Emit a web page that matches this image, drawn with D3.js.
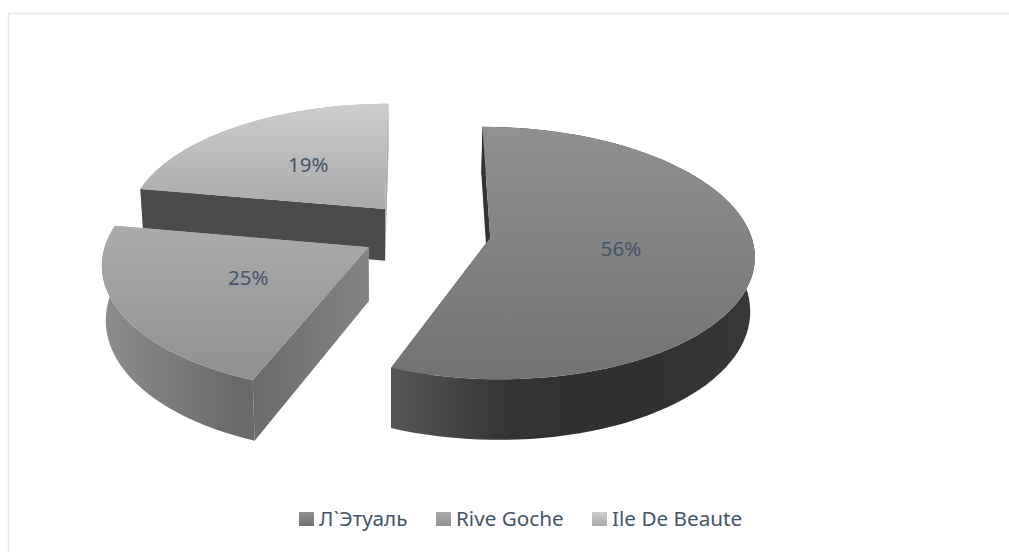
<!DOCTYPE html>
<html><head><meta charset="utf-8">
<script src="https://cdn.jsdelivr.net/npm/d3@7"></script>
<style>html,body{margin:0;padding:0;background:#fff}svg{display:block}</style>
</head><body><svg id="c" width="1009" height="552"></svg>
<script>
const categories = ["Л`Этуаль", "Rive Goche", "Ile De Beaute"];
const values = [56, 25, 19];
const labels = ["56%", "25%", "19%"];
const topColors = [["#919191", "#727272"], ["#ababab", "#909090"], ["#cdcdcd", "#a9a9a9"]];
const sideColors = [["#575757", "#333333", "#2f2f2f", "#383838"], ["#8d8d8d", "#6a6a6a", "#666666"], ["#b4b4b4", "#b4b4b4"]];
const wallColors = ["#333333", "#808080", "#4b4b4b"];
const endWallColors = ["#333333", "#b0b0b0", "#a8a8a8"];

const P = {x0: 426, y0: 232, a: 260, b: 123, s: 1, p: 0.12, explode: 0.25, depth: 53, vx: 400, k: 0.987};
const svg = d3.select("#c");
const defs = svg.append("defs");

const project = (u, v) => {
  const w = 1 - P.p * v;
  return [P.x0 + (P.a * u + P.s * v) / w, P.y0 + P.b * v / w, w];
};
const lower = ([x, y, w]) => [P.vx + (x - P.vx) * P.k, y + P.depth / w];
const line = d3.line();

const arcs = d3.pie().sort(null).value(d => d)(values).map((d, i) => ({...d, i}));
// the perspective view compresses the left boundary between the 2nd and 3rd slices
const deg = Math.PI / 180;
const warp = d3.scaleLinear().domain([0, arcs[1].startAngle, arcs[2].startAngle, 2 * Math.PI])
  .range([0, arcs[1].startAngle, 280 * deg, 2 * Math.PI]);
const dir = t => [Math.sin(t), -Math.cos(t)];

function geom(d) {
  const s = warp(d.startAngle), e = warp(d.endAngle);
  const mid = (s + e) / 2;
  const [mx, my] = dir(mid);
  const ax = mx * P.explode, ay = my * P.explode;
  const n = 80;
  const angles = d3.range(n + 1).map(j => s + (e - s) * j / n);
  const rim = angles.map(t => { const [u, v] = dir(t); return project(ax + u, ay + v); });
  const apex = project(ax, ay);
  const labelAt = project(ax + mx * 0.5, ay + my * 0.5);
  return {apex, rim, labelAt};
}

function vGrad(id, c, y0, y1) {
  const g = defs.append("linearGradient").attr("id", id).attr("gradientUnits", "userSpaceOnUse")
    .attr("x1", 0).attr("x2", 0).attr("y1", y0).attr("y2", y1);
  c.forEach((col, i) => g.append("stop").attr("offset", i / (c.length - 1)).attr("stop-color", col));
}
function hGrad(id, c, x0, x1) {
  const g = defs.append("linearGradient").attr("id", id).attr("gradientUnits", "userSpaceOnUse")
    .attr("y1", 0).attr("y2", 0).attr("x1", x0).attr("x2", x1);
  c.forEach((col, i) => g.append("stop").attr("offset", i / (c.length - 1)).attr("stop-color", col));
}

// chart frame
svg.append("path").attr("d", "M8.5,552V13.5H1009").attr("fill", "none").attr("stroke", "#e3e6eb").attr("stroke-width", 1.5);

// back to front
const order = [2, 0, 1];
order.forEach(i => {
  const d = arcs[i], G = geom(d), g = svg.append("g");
  const top2 = [G.apex, ...G.rim];
  const xs = top2.map(p => p[0]), ys = top2.map(p => p[1]);
  vGrad("top" + i, topColors[i], d3.min(ys), d3.max(ys));
  hGrad("side" + i, sideColors[i], d3.min(xs), d3.max(xs));
  const rimLow = G.rim.map(lower);
  const xy = p => [p[0], p[1]];
  const aL = lower(G.apex);
  const first = G.rim[0], last = G.rim[G.rim.length - 1];
  // end wall, outer wall, start wall
  g.append("path").attr("d", line([xy(G.apex), xy(last), lower(last), aL]) + "Z").attr("fill", endWallColors[i]);
  g.append("path").attr("d", line([...G.rim.map(xy), ...rimLow.slice().reverse()]) + "Z").attr("fill", `url(#side${i})`);
  const startWall = [xy(G.apex), xy(first), lower(first), aL];
  if (i === 1) {
    hGrad("wall1", ["#6a6a6a", "#848484"], first[0], G.apex[0]);
    g.append("path").attr("d", line(startWall) + "Z").attr("fill", "url(#wall1)");
  } else {
    g.append("path").attr("d", line(startWall) + "Z").attr("fill", wallColors[i]);
  }
  // top face
  g.append("path").attr("d", line(top2.map(xy)) + "Z").attr("fill", `url(#top${i})`);
  g.append("text").attr("x", G.labelAt[0]).attr("y", G.labelAt[1] + 6)
    .attr("text-anchor", "middle").attr("font-family", "'Noto Sans', sans-serif")
    .attr("font-size", 20.5).attr("fill", "#44546a").text(labels[i]);
});

// legend
const legendX = [299, 436, 592];
categories.forEach((c, i) => {
  vGrad("leg" + i, topColors[i], 512, 526);
  svg.append("rect").attr("x", legendX[i]).attr("y", 512).attr("width", 15).attr("height", 14).attr("fill", `url(#leg${i})`);
  svg.append("text").attr("x", legendX[i] + 20).attr("y", 526)
    .attr("font-family", "'Noto Sans', sans-serif").attr("font-size", 20.7).attr("fill", "#44546a").text(c);
});
</script></body></html>
